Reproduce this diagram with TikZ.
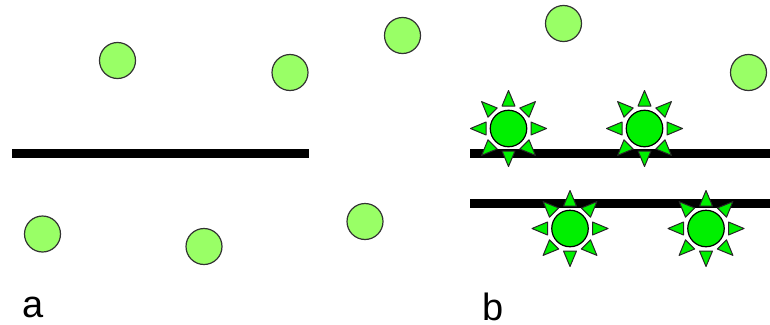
\documentclass[tikz,border=0pt]{standalone}
\usepackage{fontspec}
\setmainfont{Liberation Sans}
\definecolor{palegreen}{HTML}{99FF66}
\definecolor{sungreen}{HTML}{00F000}
\tikzset{
  cell/.style={circle,draw=black!80,line width=1.2pt,fill=palegreen,minimum size=36pt,inner sep=0pt},
  core/.style={circle,draw=black,line width=1.2pt,fill=sungreen,minimum size=36.5pt,inner sep=0pt},
  ray/.style={draw=black!85,line width=1pt,fill=sungreen,line join=round},
  barline/.style={line width=9.6pt,black},
  lab/.style={font=\fontsize{38}{38}\selectfont,anchor=base,inner sep=0pt}
}
\newcommand{\sunat}[3]{%
  \coordinate (#1) at (#2,#3);
  \foreach \ang in {0,45,...,315}{
    \draw[ray,shift={(#2,#3)},rotate=\ang] (22.5,-6.5) -- (38,0) -- (22.5,6.5) -- cycle;
  }
  \node[core] (#1c) at (#2,#3) {};
}
\begin{document}
\begin{tikzpicture}[x=1pt,y=-1pt]
\useasboundingbox (0,0) rectangle (770,324);
\coordinate (a1) at (12,153.5);
\coordinate (a2) at (309,153.5);
\coordinate (b1) at (470,153.5);
\coordinate (b2) at (770,153.5);
\coordinate (c1) at (470,203.5);
\coordinate (c2) at (770,203.5);
\draw[barline] (a1) -- (a2);
\draw[barline] (b1) -- (b2);
\draw[barline] (c1) -- (c2);
\node[cell] (n1) at (117.5,60.5) {};
\node[cell] (n2) at (290,72.5) {};
\node[cell] (n3) at (402.5,35.5) {};
\node[cell] (n4) at (563.5,23.5) {};
\node[cell] (n5) at (748.5,72.5) {};
\node[cell] (n6) at (42.5,234) {};
\node[cell] (n7) at (204,246.5) {};
\node[cell] (n8) at (365,221.5) {};
\sunat{s1}{508.5}{128.5}
\sunat{s2}{644.5}{128.5}
\sunat{s3}{570}{228.5}
\sunat{s4}{706}{228.5}
\node[lab] (la) at (33.5,317.5) {a};
\node[lab] (lb) at (493.5,320.5) {b};
\end{tikzpicture}
\end{document}
